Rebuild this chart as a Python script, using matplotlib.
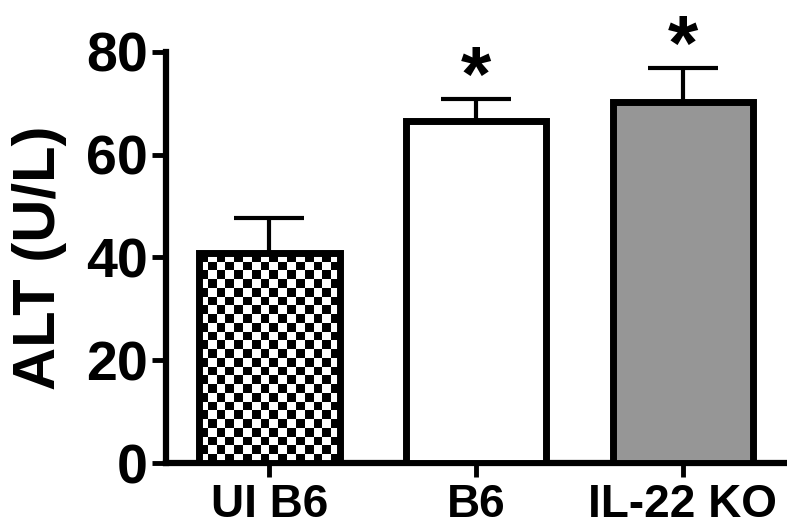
import numpy as np
import matplotlib
matplotlib.use('Agg')
import matplotlib.pyplot as plt

# data
groups = ['UI B6', 'B6', 'IL-22 KO']
alt_mean = [40.8, 66.5, 70.3]
alt_sem = [6.9, 4.4, 6.6]
significant = [False, True, True]

plt.rcParams['font.family'] = ['Liberation Sans', 'DejaVu Sans']
plt.rcParams['font.weight'] = 'bold'

fig = plt.figure(figsize=(7.87, 5.28), dpi=100)
ax = fig.add_axes([0.211, 0.123, 0.788, 0.779])

x = np.arange(len(groups))
colors = ['white', 'white', '#969696']
bars = ax.bar(x, alt_mean, width=0.68, color=colors, linewidth=0, zorder=3)
ax.errorbar(x, alt_mean, yerr=[np.zeros(len(x)), alt_sem], fmt='none',
            ecolor='black', elinewidth=3, capsize=25, capthick=3, zorder=2)

ax.set_xlim(-0.5, 2.5)
ax.set_ylim(0, 80)

# checkerboard fill for the first bar
b = bars[0]
fig.canvas.draw()
x0, y0 = b.get_x(), b.get_y()
w, h = b.get_width(), b.get_height()
p0 = ax.transData.transform((x0, y0))
p1 = ax.transData.transform((x0 + w, y0 + h))
ncol = 16
nrow = int(round(ncol * (p1[1] - p0[1]) / (p1[0] - p0[0])))
checker = (np.indices((nrow, ncol)).sum(axis=0) % 2).astype(float)
im = ax.imshow(checker, cmap='gray', extent=(x0, x0 + w, y0, y0 + h),
               interpolation='nearest', aspect='auto', zorder=3.1)
im.set_clip_path(b)

# outlines on top
ax.bar(x, alt_mean, width=0.68, facecolor='none', edgecolor='black',
       linewidth=5, zorder=3.2)

for xi, m, s, sig in zip(x, alt_mean, alt_sem, significant):
    if sig:
        ax.text(xi, m + s + 3.6, '*', ha='center', va='center',
                fontsize=56, fontweight='bold', clip_on=False)

ax.set_yticks([0, 20, 40, 60, 80])
ax.set_xticks(x)
ax.set_xticklabels(groups, fontsize=33, fontweight='bold')
ax.tick_params(axis='y', labelsize=40, width=3.5, length=10, pad=3)
ax.tick_params(axis='x', width=3.5, length=10, pad=4)
ax.set_ylabel('ALT (U/L)', fontsize=43, fontweight='bold', labelpad=14)

for side in ['top', 'right']:
    ax.spines[side].set_visible(False)
for side in ['left', 'bottom']:
    ax.spines[side].set_linewidth(4.5)

fig.savefig('out.png', dpi=100)
